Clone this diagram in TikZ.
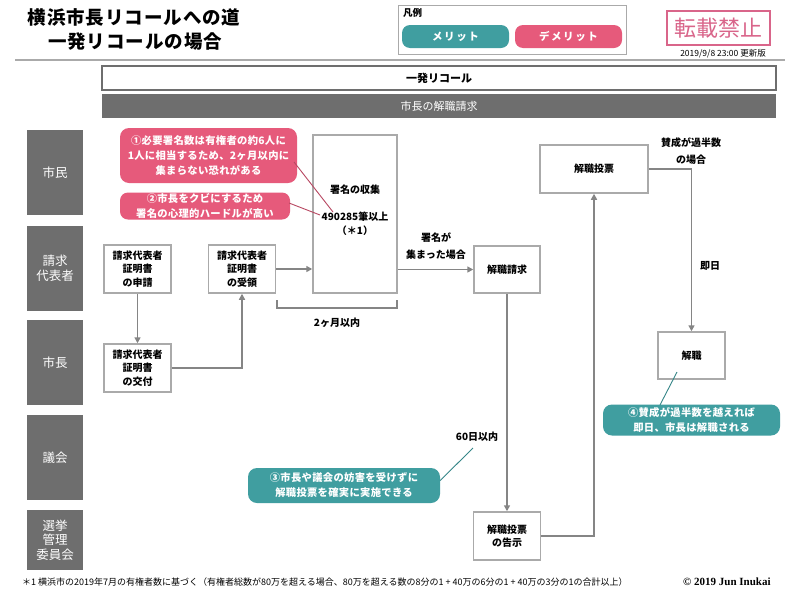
\documentclass[tikz,border=0pt]{standalone}
\usepackage{fontspec}
\setmainfont{Noto Sans CJK JP}
\newfontfamily\serifcopy{Liberation Serif}
\usetikzlibrary{arrows.meta}
\definecolor{pinkc}{HTML}{E65A7B}
\definecolor{tealc}{HTML}{409EA0}
\definecolor{lanegray}{HTML}{6E6E6E}
\definecolor{boxgray}{HTML}{AAAAAA}
\definecolor{arrgray}{HTML}{858585}
\definecolor{stampc}{HTML}{D9658A}
\begin{document}
\begin{tikzpicture}[x=1pt,y=-1pt,
  box/.style={draw=boxgray,line width=1.5pt,fill=white,align=center,inner sep=0pt,
    font=\bfseries\fontsize{10}{13.5}\selectfont},
  lane/.style={fill=lanegray,text=white,align=center,inner sep=0pt,minimum width=56,
    font=\fontsize{12.5}{15}\selectfont},
  arr/.style={draw=arrgray,line width=1.5pt,-{Triangle[width=6pt,length=6pt]}},
  callout/.style={rounded corners=9pt,text=white,align=center,inner sep=0pt,
    font=\bfseries\fontsize{10.3}{15}\selectfont\addfontfeature{LetterSpace=3}},
  lbl/.style={align=center,inner sep=0pt,font=\bfseries\fontsize{10}{17}\selectfont},
  pill/.style={rounded corners=8pt,text=white,inner sep=0pt,minimum width=107,minimum height=23,
    font=\bfseries\fontsize{10.5}{12}\selectfont\addfontfeature{LetterSpace=15}}
]
\useasboundingbox (0,0) rectangle (800,600);
\fill[white] (0,0) rectangle (800,600);

% title
\node[font=\bfseries\fontsize{18.5}{22}\selectfont\addfontfeature{LetterSpace=5},inner sep=0pt] (t1) at (134,17) {横浜市長リコールへの道};
\node[font=\bfseries\fontsize{18.5}{22}\selectfont\addfontfeature{LetterSpace=5},inner sep=0pt] (t2) at (135,42) {一発リコールの場合};

% legend
\node[draw=boxgray,line width=0.8pt,minimum width=228,minimum height=49,inner sep=0pt] (legend) at (512,29.5) {};
\node[anchor=west,inner sep=0pt,font=\bfseries\fontsize{9.5}{11}\selectfont] (hanrei) at (403,13) {凡例};
\node[pill,fill=tealc] (merit) at (455.5,36.5) {メリット};
\node[pill,fill=pinkc] (demerit) at (568.5,36.5) {デメリット};

% stamp
\node[draw=stampc,line width=1.5pt,text=stampc,minimum width=103,minimum height=34,inner sep=0pt,
  font=\fontsize{22}{24}\selectfont] (stamp) at (718.5,28) {転載禁止};
\node[inner sep=0pt,font=\fontsize{8.5}{10}\selectfont] (date) at (723,54) {2019/9/8 23:00 更新版};

\draw[boxgray,line width=1.2pt] (15,60) -- (785,60);

% header bars
\node[draw=lanegray,line width=1.5pt,fill=white,minimum width=674,minimum height=24,inner sep=0pt,
  font=\bfseries\fontsize{11}{13}\selectfont] (bar1) at (439,78) {一発リコール};
\node[fill=lanegray,text=white,minimum width=674,minimum height=24,inner sep=0pt,
  font=\fontsize{11}{13}\selectfont] (bar2) at (439,106) {市長の解職請求};

% lanes
\node[lane,minimum height=85] (l1) at (55,172.5) {市民};
\node[lane,minimum height=85] (l2) at (55,268.5) {請求\\代表者};
\node[lane,minimum height=85] (l3) at (55,362.5) {市長};
\node[lane,minimum height=85] (l4) at (55,457.5) {議会};
\node[lane,minimum height=60,font=\fontsize{12.5}{14.5}\selectfont] (l5) at (55,540) {選挙\\管理\\委員会};

% boxes
\node[box,minimum width=67,minimum height=48] (shinsei) at (137.5,269) {請求代表者\\証明書\\の申請};
\node[box,minimum width=67,minimum height=48] (juryo) at (242,269) {請求代表者\\証明書\\の受領};
\node[box,minimum width=67,minimum height=48] (kofu) at (137.5,368) {請求代表者\\証明書\\の交付};
\node[box,minimum width=84,minimum height=158] (shomei) at (355,214) {};
\node[lbl] (shomeiT) at (355,190) {署名の収集};
\node[lbl,font=\bfseries\fontsize{10}{14}\selectfont] (shomeiN) at (355,224) {490285筆以上\\（＊1）};
\node[box,minimum width=66,minimum height=47] (seikyu) at (507,269.5) {解職請求};
\node[box,minimum width=108,minimum height=48] (tohyo) at (594,169) {解職投票};
\node[box,minimum width=67,minimum height=47] (kaishoku) at (691.5,355.5) {解職};
\node[box,minimum width=67,minimum height=48] (kokuji) at (507,536) {解職投票\\の告示};

% connectors
\draw[arr] (shinsei) -- (kofu);
\draw[arr] (kofu.east) -| (juryo.south);
\draw[arr] (juryo.east) -- (juryo.east -| shomei.west);
\draw[arr] (shomei.east |- seikyu.west) -- (seikyu.west);
\draw[arr] (seikyu.south) -- (kokuji.north);
\draw[arr] (kokuji.east) -| (tohyo.south);
\draw[arr] (tohyo.east) -| (kaishoku.north);

% bracket
\coordinate (brL) at (277,300);
\coordinate (brR) at (397,300);
\draw[arrgray,line width=1.2pt] (brL) -- ++(0,8) -| (brR);
\node[lbl] (twomonth) at (337,323) {2ヶ月以内};

% labels
\node[lbl] (lblsig) at (436,246) {署名が\\集まった場合};
\node[lbl] (lbl60) at (477,437) {60日以内};
\node[lbl] (lblmaj) at (691,151.5) {賛成が過半数\\の場合};
\node[lbl] (lblsoku) at (710,266) {即日};

% callouts
\node[callout,fill=pinkc,minimum width=177,minimum height=55] (c1) at (208.5,155.5)
  {①必要署名数は有権者の約6人に\\1人に相当するため、2ヶ月以内に\\集まらない恐れがある};
\node[callout,fill=pinkc,minimum width=170,minimum height=27,rounded corners=8pt] (c2) at (205,206)
  {②市長をクビにするため\\署名の心理的ハードルが高い};
\node[callout,fill=tealc,minimum width=192,minimum height=35] (c3) at (344,485.5)
  {③市長や議会の妨害を受けずに\\解職投票を確実に実施できる};
\node[callout,fill=tealc,minimum width=177,minimum height=31] (c4) at (691.5,420)
  {④賛成が過半数を越えれば\\即日、市長は解職される};

\coordinate (p1) at (333,212);
\coordinate (p2) at (320,215);
\coordinate (p3) at (473,448);
\coordinate (p4) at (677,372);
\draw[pinkc!80!black,line width=0.9pt] (294,162) -- (p1);
\draw[pinkc!80!black,line width=0.9pt] (289,203) -- (p2);
\draw[tealc!85!black,line width=0.9pt] (c3.east) ++(0,-5) -- (p3);
\draw[tealc!85!black,line width=0.9pt] (660,405) -- (p4);

% footnote
\node[anchor=west,inner sep=0pt,font=\fontsize{9}{11}\selectfont] (foot) at (22,582)
  {＊1 横浜市の2019年7月の有権者数に基づく（有権者総数が80万を超える場合、80万を超える数の8分の1 + 40万の6分の1 + 40万の3分の1の合計以上）};
\node[anchor=west,inner sep=0pt,font=\serifcopy\bfseries\fontsize{11}{13}\selectfont] (copy) at (683,582) {© 2019 Jun Inukai};
\end{tikzpicture}
\end{document}
